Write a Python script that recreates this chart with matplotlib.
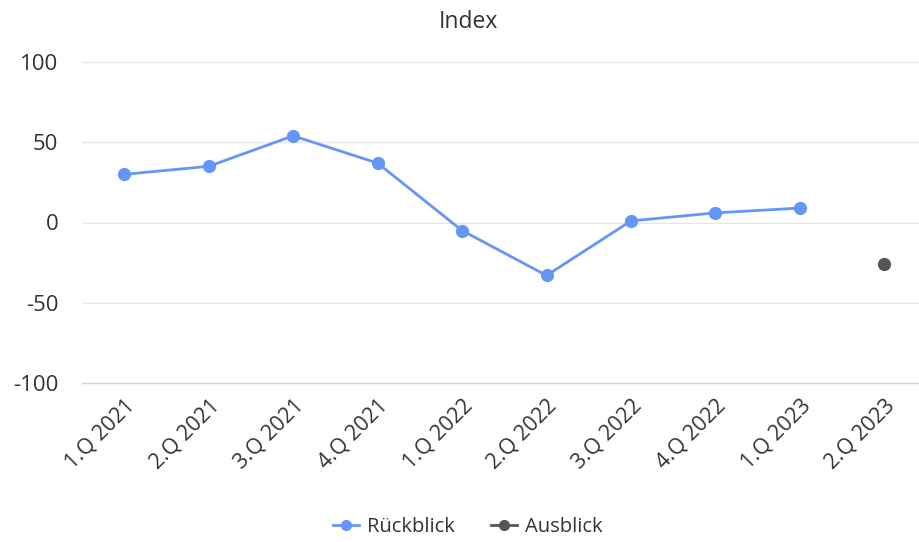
import matplotlib
matplotlib.use("Agg")
import matplotlib.pyplot as plt
from matplotlib.lines import Line2D

plt.rcParams['font.family'] = ['Open Sans', 'DejaVu Sans']

categories = ["1.Q 2021", "2.Q 2021", "3.Q 2021", "4.Q 2021", "1.Q 2022",
              "2.Q 2022", "3.Q 2022", "4.Q 2022", "1.Q 2023", "2.Q 2023"]
rueckblick = [30, 35, 54, 37, -5, -33, 1, 6, 9]
ausblick = [-26]
ausblick_idx = [9]
yticks = [-100, -50, 0, 50, 100]

blue = "#6495f8"
gray = "#555555"
txt = "#333333"

fig = plt.figure(figsize=(9.19, 5.42), dpi=100)
ax = fig.add_axes([82/919, 1-383/542, 1-82/919, (383-62)/542])

ax.plot(range(len(rueckblick)), rueckblick, color=blue, lw=2, marker='o', ms=8.5,
        label="Rückblick", zorder=3)
ax.plot(ausblick_idx, ausblick, color=gray, lw=2, marker='o', ms=8.5, ls='none',
        label="Ausblick", zorder=3)

ax.set_xlim(-0.5, 9.41)
ax.set_ylim(-100, 100)
ax.set_yticks(yticks)
ax.set_yticklabels([str(v) for v in yticks], fontsize=16, color=txt)
ax.set_xticks(range(len(categories)))
ax.set_xticklabels(categories, rotation=45, ha='right', rotation_mode='anchor',
                   fontsize=15.5, color=txt)
ax.tick_params(axis='both', length=0)
ax.tick_params(axis='y', pad=17)
ax.tick_params(axis='x', pad=9)
ax.grid(axis='y', color="#e6e6e6", lw=1)
ax.set_axisbelow(True)
for s in ['top', 'right', 'left']:
    ax.spines[s].set_visible(False)
ax.spines['bottom'].set_color("#ccd6eb")
ax.spines['bottom'].set_linewidth(1)

fig.text(468/919, 1-22/542, "Index", ha='center', va='center', fontsize=16.5, color=txt)

handles = [Line2D([0], [0], color=blue, lw=2, marker='o', ms=7),
           Line2D([0], [0], color=gray, lw=2, marker='o', ms=7)]
fig.legend(handles, ["Rückblick", "Ausblick"], loc='center', bbox_to_anchor=(468/919, 1-527/542),
           ncol=2, frameon=False, fontsize=14.5, handlelength=1.3, handletextpad=0.4,
           columnspacing=1.8, labelcolor=txt)

fig.savefig("out.png", dpi=100)
